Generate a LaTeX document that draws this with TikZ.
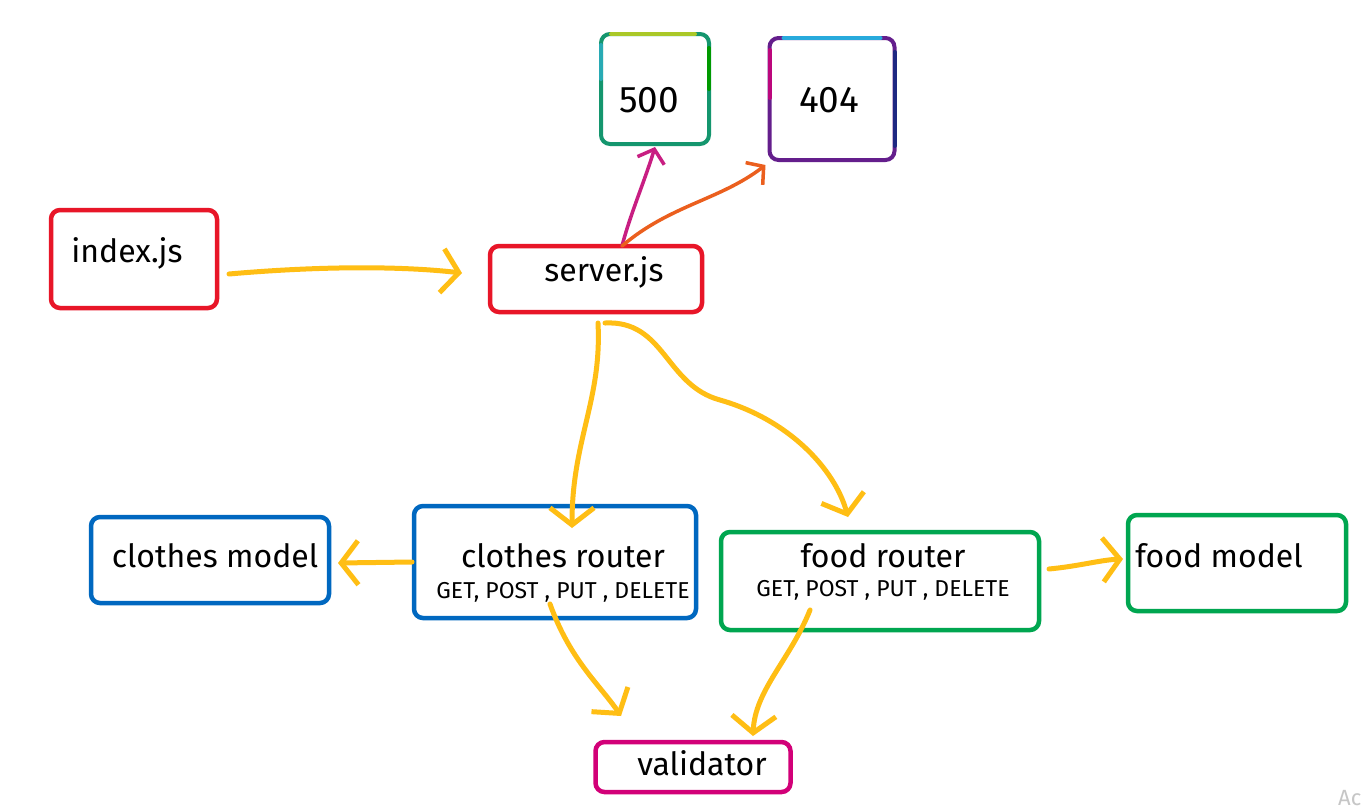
\documentclass[tikz,border=0pt]{standalone}
\usepackage{fontspec}
\setmainfont{Fira Sans}
\usetikzlibrary{arrows.meta}
\definecolor{hred}{RGB}{232,22,40}
\definecolor{hblue}{RGB}{0,104,192}
\definecolor{hgreen}{RGB}{0,166,80}
\definecolor{hmag}{RGB}{210,0,120}
\definecolor{hyel}{RGB}{255,190,20}
\definecolor{tealg}{RGB}{20,150,110}
\definecolor{limeg}{RGB}{170,200,40}
\definecolor{tealb}{RGB}{40,170,180}
\definecolor{purp}{RGB}{100,30,140}
\definecolor{skyb}{RGB}{40,170,220}
\definecolor{navyb}{RGB}{30,40,130}
\definecolor{pinkm}{RGB}{200,30,130}
\definecolor{orng}{RGB}{235,95,30}
\begin{document}
\begin{tikzpicture}[x=1pt,y=-1pt,
  box/.style={rectangle, draw, line width=4.5pt, rounded corners=9pt, inner sep=0pt, outer sep=0pt},
  lbl/.style={font=\fontsize{32}{36}\selectfont, inner sep=0pt},
  numlbl/.style={font=\fontsize{37}{40}\selectfont, inner sep=0pt},
  sublbl/.style={font=\fontsize{23}{26}\selectfont, inner sep=0pt},
  yarrow/.style={draw=hyel, line width=5pt, line cap=round, line join=round,
    -{Straight Barb[length=17pt, width=44pt]}},
  carrow/.style={line width=3.5pt, line cap=round, line join=round,
    -{Straight Barb[length=12pt, width=28pt]}}]
\fill[white] (0,0) rectangle (1366,807);
\useasboundingbox (0,0) rectangle (1366,807);

% boxes
\node[box, draw=hred, minimum width=166pt, minimum height=98pt] (idx) at (134,259) {};
\node[box, draw=hred, minimum width=212pt, minimum height=66pt] (srv) at (596,279) {};
\node[box, draw=tealg, line width=4pt, minimum width=108pt, minimum height=110pt] (n500) at (655,89) {};
\node[box, draw=purp, line width=4pt, minimum width=125pt, minimum height=122pt] (n404) at (832,99) {};
\node[box, draw=hblue, minimum width=238pt, minimum height=86pt] (cm) at (210,560) {};
\node[box, draw=hblue, minimum width=282pt, minimum height=112pt] (cr) at (555,562) {};
\node[box, draw=hgreen, minimum width=318pt, minimum height=98pt] (fr) at (880,581) {};
\node[box, draw=hgreen, minimum width=218pt, minimum height=96pt] (fm) at (1237,563) {};
\node[box, draw=hmag, minimum width=195pt, minimum height=50pt] (val) at (693,767) {};

% colored edge overlays for 500 and 404
\draw[limeg, line width=4pt, line cap=round] ([xshift=10pt]n500.north west) -- ([xshift=-14pt]n500.north east);
\draw[tealb, line width=4pt, line cap=round] ([yshift=-11pt]n500.north west) -- ([yshift=-45pt]n500.north west);
\draw[green!60!black, line width=4pt, line cap=round] ([yshift=-14pt]n500.north east) -- ([yshift=-55pt]n500.north east);
\draw[skyb, line width=4pt, line cap=round] ([xshift=14pt]n404.north west) -- ([xshift=-14pt]n404.north east);
\draw[navyb, line width=4pt, line cap=round] ([yshift=-14pt]n404.north east) -- ([yshift=14pt]n404.south east);
\draw[hmag!80!purp, line width=4pt, line cap=round] ([yshift=-12pt]n404.north west) -- ([yshift=-60pt]n404.north west);

% labels
\node[lbl] (idxt) at (127,253) {index.js};
\node[lbl] (srvt) at (604,272) {server.js};
\node[numlbl] (t500) at (649,100) {500};
\node[numlbl] (t404) at (829,100) {404};
\node[lbl] (cmt) at (215,556) {clothes model};
\node[lbl] (crt) at (563,556) {clothes router};
\node[sublbl] (crs) at (563,592) {GET, POST , PUT , DELETE};
\node[lbl] (frt) at (883,556) {food router};
\node[sublbl] (frs) at (883,590) {GET, POST , PUT , DELETE};
\node[lbl] (fmt) at (1219,556) {food model};
\node[lbl] (valt) at (702,763) {validator};
\node[text=gray!45, font=\fontsize{22}{24}\selectfont, anchor=west, inner sep=0pt] (ac) at (1338,798) {Ac};

% connectors
\draw[yarrow] ([xshift=12pt,yshift=-15pt]idx.east) .. controls (320,266) and (400,266) .. ([xshift=-28pt,yshift=6pt]srv.west);
\draw[yarrow] ([xshift=2pt,yshift=-11pt]srv.south) .. controls (602,400) and (572,440) .. ([xshift=17pt,yshift=-22pt]cr.north);
\draw[yarrow] ([xshift=9pt,yshift=-11pt]srv.south) .. controls (665,320) and (665,385) .. (720,400)
   .. controls (790,420) and (835,470) .. ([xshift=-32pt,yshift=15pt]fr.north);
\draw[yarrow] ([xshift=-2pt]cr.west) -- ([xshift=9pt,yshift=-3pt]cm.east);
\draw[yarrow] ([xshift=10pt,yshift=12pt]fr.east) .. controls (1080,566) and (1100,560) .. ([xshift=-5pt,yshift=4pt]fm.west);
\draw[yarrow] ([xshift=-5pt,yshift=14pt]cr.south) .. controls (570,660) and (600,685) .. ([xshift=-72pt,yshift=26pt]val.north);
\draw[yarrow] ([xshift=-70pt,yshift=20pt]fr.south) .. controls (790,660) and (755,690) .. ([xshift=60pt,yshift=6pt]val.north);
\draw[carrow, draw=pinkm] ([xshift=26pt]srv.north) .. controls (630,215) and (645,180) .. ([yshift=-3pt]n500.south);
\draw[carrow, draw=orng] ([xshift=26pt]srv.north) .. controls (670,205) and (720,200) .. ([xshift=-4pt,yshift=-5pt]n404.south west);
\end{tikzpicture}
\end{document}
